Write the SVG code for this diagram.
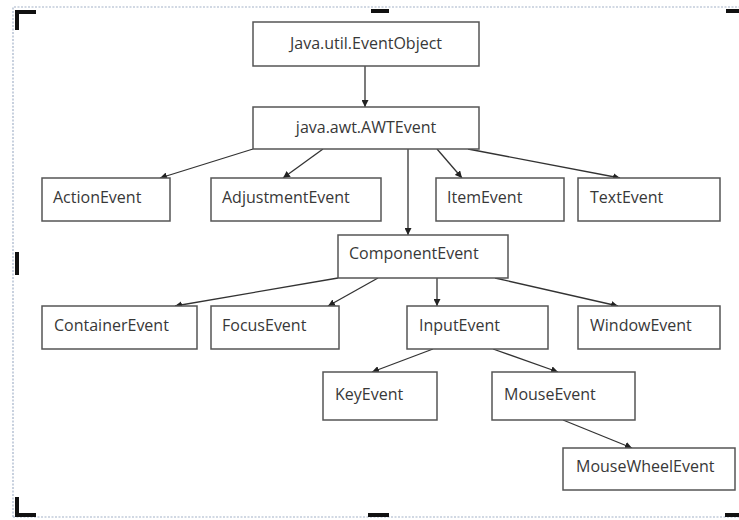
<svg xmlns="http://www.w3.org/2000/svg" width="739" height="520" viewBox="0 0 739 520">
  <style>
    .box { fill: #ffffff; stroke: #555555; stroke-width: 1.5; }
    .lbl { font-family: "Open Sans", "Liberation Sans", sans-serif; font-size: 16px; fill: #383838; }
    .mid { text-anchor: middle; }
    .edge { stroke: #333333; stroke-width: 1.3; fill: none; marker-end: url(#arrow); }
    .frame { fill: none; stroke: #a4b2c8; stroke-width: 1.2; stroke-dasharray: 2 1.5; }
    .handle { fill: #111111; }
  </style>
  <defs>
    <marker id="arrow" viewBox="0 0 10 10" refX="10" refY="5" markerWidth="7" markerHeight="7" markerUnits="userSpaceOnUse" orient="auto">
      <path d="M0,0 L10,5 L0,10 z" fill="#222222"/>
    </marker>
  </defs>

  <rect width="739" height="520" fill="#ffffff"/>

  <!-- selection frame with dotted outline and handles -->
  <g id="frame">
    <path class="frame" d="M13,517 L13,7 L739,7"/>
    <path class="frame" d="M13,517 L739,517"/>
    <path class="handle" d="M15,10 H36 V14 H19 V30 H15 Z"/>
    <rect class="handle" x="371" y="9" width="18" height="4"/>
    <rect class="handle" x="726" y="9" width="13" height="4"/>
    <rect class="handle" x="15" y="252" width="4" height="23"/>
    <path class="handle" d="M15,497 H19 V513 H36 V517 H15 Z"/>
    <rect class="handle" x="368" y="513" width="21" height="4"/>
    <rect class="handle" x="725" y="513" width="14" height="4"/>
  </g>

  <!-- connectors -->
  <g id="connectors">
    <line class="edge" x1="365" y1="66" x2="365" y2="107"/>
    <line class="edge" x1="253" y1="149" x2="160" y2="178"/>
    <line class="edge" x1="323" y1="149" x2="283" y2="178"/>
    <line class="edge" x1="408" y1="149" x2="408" y2="235"/>
    <line class="edge" x1="437" y1="149" x2="462" y2="178"/>
    <line class="edge" x1="468" y1="149" x2="620" y2="178"/>
    <line class="edge" x1="338" y1="278" x2="175" y2="306"/>
    <line class="edge" x1="378" y1="278" x2="328" y2="306"/>
    <line class="edge" x1="437" y1="278" x2="437" y2="306"/>
    <line class="edge" x1="495" y1="278" x2="618" y2="306"/>
    <line class="edge" x1="433" y1="349" x2="372" y2="372"/>
    <line class="edge" x1="493" y1="349" x2="558" y2="372"/>
    <line class="edge" x1="563" y1="420" x2="632" y2="448"/>
  </g>

  <!-- nodes -->
  <g id="eventObject">
    <rect class="box" x="253" y="22" width="226" height="44"/>
    <text class="lbl mid" x="366" y="49">Java.util.EventObject</text>
  </g>
  <g id="awtEvent">
    <rect class="box" x="253" y="107" width="226" height="42"/>
    <text class="lbl mid" x="366" y="133">java.awt.AWTEvent</text>
  </g>
  <g id="actionEvent">
    <rect class="box" x="42" y="178" width="128" height="43"/>
    <text class="lbl" x="53" y="203">ActionEvent</text>
  </g>
  <g id="adjustmentEvent">
    <rect class="box" x="211" y="178" width="170" height="43"/>
    <text class="lbl" x="222" y="203">AdjustmentEvent</text>
  </g>
  <g id="itemEvent">
    <rect class="box" x="436" y="178" width="128" height="43"/>
    <text class="lbl" x="447" y="203">ItemEvent</text>
  </g>
  <g id="textEvent">
    <rect class="box" x="578" y="178" width="142" height="43"/>
    <text class="lbl" x="590" y="203">TextEvent</text>
  </g>
  <g id="componentEvent">
    <rect class="box" x="338" y="235" width="170" height="43"/>
    <text class="lbl" x="349" y="259">ComponentEvent</text>
  </g>
  <g id="containerEvent">
    <rect class="box" x="42" y="306" width="155" height="43"/>
    <text class="lbl" x="54" y="331">ContainerEvent</text>
  </g>
  <g id="focusEvent">
    <rect class="box" x="211" y="306" width="128" height="43"/>
    <text class="lbl" x="222" y="331">FocusEvent</text>
  </g>
  <g id="inputEvent">
    <rect class="box" x="407" y="306" width="141" height="43"/>
    <text class="lbl" x="419" y="331">InputEvent</text>
  </g>
  <g id="windowEvent">
    <rect class="box" x="578" y="306" width="142" height="43"/>
    <text class="lbl" x="590" y="331">WindowEvent</text>
  </g>
  <g id="keyEvent">
    <rect class="box" x="323" y="372" width="114" height="48"/>
    <text class="lbl" x="335" y="400">KeyEvent</text>
  </g>
  <g id="mouseEvent">
    <rect class="box" x="492" y="372" width="143" height="48"/>
    <text class="lbl" x="504" y="400">MouseEvent</text>
  </g>
  <g id="mouseWheelEvent">
    <rect class="box" x="563" y="448" width="172" height="42"/>
    <text class="lbl" x="576" y="472">MouseWheelEvent</text>
  </g>
</svg>
